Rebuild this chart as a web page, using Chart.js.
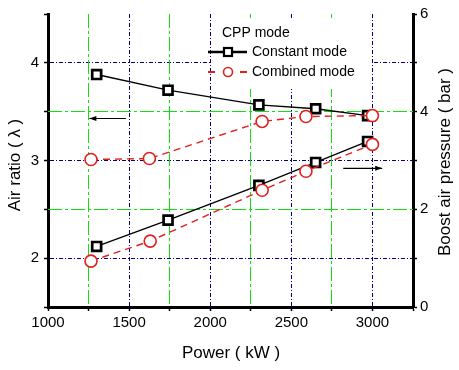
<!DOCTYPE html>
<html><head><meta charset="utf-8">
<script src="https://cdn.jsdelivr.net/npm/chart.js@4.4.1/dist/chart.umd.min.js"></script>
<style>html,body{margin:0;padding:0;background:#fff;}#wrap{width:459px;height:370px;}</style>
</head><body><div id="wrap"><canvas id="c" width="459" height="370"></canvas></div>
<script>
// ---- data ----
const powerConstant = [1300, 1740, 2300, 2650, 2970];
const airRatioConstant = [3.88, 3.72, 3.57, 3.53, 3.46];
const boostConstant = [1.24, 1.78, 2.49, 2.96, 3.39];

const powerCombinedRatio = [1265, 1625, 2320, 2590, 3000];
const airRatioCombined = [3.01, 3.02, 3.40, 3.45, 3.46];
const powerCombinedBoost = [1265, 1630, 2320, 2590, 3000];
const boostCombined = [0.94, 1.35, 2.39, 2.78, 3.33];

const xTickLabels = [1000, 1500, 2000, 2500, 3000];
const leftTickLabels = [2, 3, 4];
const rightTickLabels = [0, 2, 4, 6];

const legendTitle = 'CPP mode';
const seriesNames = ['Constant mode', 'Combined mode'];
const xTitle = 'Power ( kW )';
const yLeftTitle = 'Air ratio ( λ )';
const yRightTitle = 'Boost air pressure ( bar )';

const FONT = '"Liberation Sans", Arial, sans-serif';
const RED = '#e0201c';
const NAVY = '#000080';
const GREEN = '#10e010';
const NAVY_DASH = [4, 2, 1, 2];
const GREEN_DASH = [14, 3, 3, 3];

const pts = (xs, ys) => xs.map((x, i) => ({x, y: ys[i]}));

const redStyle = {
  borderColor: RED, borderWidth: 1.4, borderDash: [7, 5],
  pointStyle: 'circle', pointRadius: 6, pointBorderWidth: 1.6,
  pointBorderColor: RED, pointBackgroundColor: '#fff', tension: 0
};
const blackStyle = {
  borderColor: '#000', borderWidth: 1.4,
  pointStyle: 'rect', pointRadius: 6.3, pointBorderWidth: 2.7,
  pointBorderColor: '#000', pointBackgroundColor: '#fff', tension: 0
};

const isMultiple = (v, step) => Math.abs(v / step - Math.round(v / step)) < 1e-6;

function navyOnlyX(ctx) {
  if (!ctx.tick) return 'rgba(0,0,0,0)';
  const v = ctx.tick.value;
  if (v <= 1000 || v >= 3250) return 'rgba(0,0,0,0)';
  return isMultiple(v, 500) ? NAVY : 'rgba(0,0,0,0)';
}
function navyOnlyL(ctx) {
  if (!ctx.tick) return 'rgba(0,0,0,0)';
  const v = ctx.tick.value;
  if (v <= 1.5 || v >= 4.5) return 'rgba(0,0,0,0)';
  return isMultiple(v, 1) ? NAVY : 'rgba(0,0,0,0)';
}
const navyDash = ctx => ctx.tick ? NAVY_DASH : [];

const decor = {
  id: 'decor',
  beforeDatasetsDraw(chart) {
    const c = chart.ctx;
    const a = chart.chartArea;
    const sx = chart.scales.x, sl = chart.scales.yL;
    c.save();
    // green minor grid lines (from the scales' own ticks)
    c.strokeStyle = GREEN; c.lineWidth = 1; c.setLineDash(GREEN_DASH);
    sx.ticks.forEach(t => {
      if (t.value > 1000 && t.value < 3250 && !isMultiple(t.value, 500)) {
        const px = Math.round(sx.getPixelForValue(t.value) - 0.5) + 0.5;
        c.beginPath(); c.moveTo(px, a.top); c.lineTo(px, a.bottom); c.stroke();
      }
    });
    sl.ticks.forEach(t => {
      if (t.value > 1.5 && t.value < 4.5 && !isMultiple(t.value, 1)) {
        const py = Math.round(sl.getPixelForValue(t.value) - 0.5) + 0.5;
        c.beginPath(); c.moveTo(a.left, py); c.lineTo(a.right, py); c.stroke();
      }
    });
    c.setLineDash([]);
    // legend background
    c.fillStyle = '#fff';
    c.fillRect(211, 18, 161, 71);
    c.restore();
  },
  afterDraw(chart) {
    const c = chart.ctx;
    const sx = chart.scales.x, sl = chart.scales.yL, sr = chart.scales.yR;
    c.save();
    c.fillStyle = '#000';
    // axis titles
    c.font = '17px ' + FONT;
    c.textAlign = 'center'; c.textBaseline = 'middle';
    c.fillText(xTitle, 231, 353);
    c.save(); c.translate(15, 165); c.rotate(-Math.PI / 2); c.fillText(yLeftTitle, 0, 0); c.restore();
    c.save(); c.translate(445, 162); c.rotate(-Math.PI / 2); c.fillText(yRightTitle, 0, 0); c.restore();

    // legend
    c.font = '14px ' + FONT;
    c.textAlign = 'left';
    c.fillText(legendTitle, 222, 33);
    c.fillText(seriesNames[0], 252, 52);
    c.fillText(seriesNames[1], 252, 72);
    c.strokeStyle = '#000'; c.lineWidth = 2.5;
    c.beginPath(); c.moveTo(208, 52); c.lineTo(247, 52); c.stroke();
    c.fillStyle = '#fff'; c.lineWidth = 2.2;
    c.fillRect(224, 48, 8, 8); c.strokeRect(224, 48, 8, 8);
    c.strokeStyle = RED; c.lineWidth = 2;
    c.beginPath(); c.moveTo(208, 72); c.lineTo(215, 72); c.moveTo(240, 72); c.lineTo(247, 72); c.stroke();
    c.lineWidth = 1.6;
    c.beginPath(); c.arc(228, 72, 4.5, 0, Math.PI * 2); c.fill(); c.stroke();

    // arrows indicating axes
    c.strokeStyle = '#000'; c.fillStyle = '#000'; c.lineWidth = 1.2;
    const arrow = (x1, x2, y) => {
      c.beginPath(); c.moveTo(x1, y); c.lineTo(x2, y); c.stroke();
      const d = x2 > x1 ? 1 : -1;
      c.beginPath(); c.moveTo(x2, y); c.lineTo(x2 - d * 7, y - 2.5); c.lineTo(x2 - d * 7, y + 2.5); c.closePath(); c.fill();
    };
    arrow(sx.getPixelForValue(1480), sx.getPixelForValue(1255), sl.getPixelForValue(3.43));
    arrow(sx.getPixelForValue(2820), sx.getPixelForValue(3060), sr.getPixelForValue(2.84));
    c.restore();
  }
};

new Chart(document.getElementById('c'), {
  type: 'line',
  data: {
    datasets: [
      Object.assign({label: seriesNames[1] + ' λ', yAxisID: 'yL', data: pts(powerCombinedRatio, airRatioCombined)}, redStyle),
      Object.assign({label: seriesNames[1] + ' boost', yAxisID: 'yR', data: pts(powerCombinedBoost, boostCombined)}, redStyle),
      Object.assign({label: seriesNames[0] + ' λ', yAxisID: 'yL', data: pts(powerConstant, airRatioConstant)}, blackStyle),
      Object.assign({label: seriesNames[0] + ' boost', yAxisID: 'yR', data: pts(powerConstant, boostConstant)}, blackStyle)
    ]
  },
  options: {
    responsive: false, animation: false, devicePixelRatio: 1,
    layout: {padding: {top: 12, left: 0, right: 0, bottom: 0}},
    plugins: {legend: {display: false}, tooltip: {enabled: false}},
    scales: {
      x: {
        type: 'linear', position: 'bottom', min: 1000, max: 3250,
        afterFit: s => { s.height = 63; },
        ticks: {stepSize: 250, autoSkip: false, maxRotation: 0, padding: 3, color: '#000',
          font: {family: FONT, size: 15},
          callback: v => xTickLabels.includes(v) ? String(v) : ''},
        grid: {color: navyOnlyX, lineWidth: 1, tickColor: '#000', tickLength: 4, tickWidth: 1.5},
        border: {display: true, color: '#000', width: 3, dash: navyDash}
      },
      yL: {
        type: 'linear', position: 'left', min: 1.5, max: 4.5,
        afterFit: s => { s.width = 48; },
        ticks: {stepSize: 0.5, autoSkip: false, padding: 5, color: '#000',
          font: {family: FONT, size: 15},
          callback: v => leftTickLabels.includes(v) ? String(v) : ''},
        grid: {color: navyOnlyL, lineWidth: 1, tickColor: '#000', tickLength: 4, tickWidth: 1.5},
        border: {display: true, color: '#000', width: 3, dash: navyDash}
      },
      yR: {
        type: 'linear', position: 'right', min: 0, max: 6,
        afterFit: s => { s.width = 46; },
        ticks: {stepSize: 1, autoSkip: false, padding: 3, color: '#000',
          font: {family: FONT, size: 15},
          callback: v => rightTickLabels.includes(v) ? String(v) : ''},
        grid: {drawOnChartArea: false, tickColor: '#000', tickLength: 4, tickWidth: 1.5},
        border: {display: true, color: '#000', width: 3}
      }
    }
  },
  plugins: [decor]
});
</script></body></html>
